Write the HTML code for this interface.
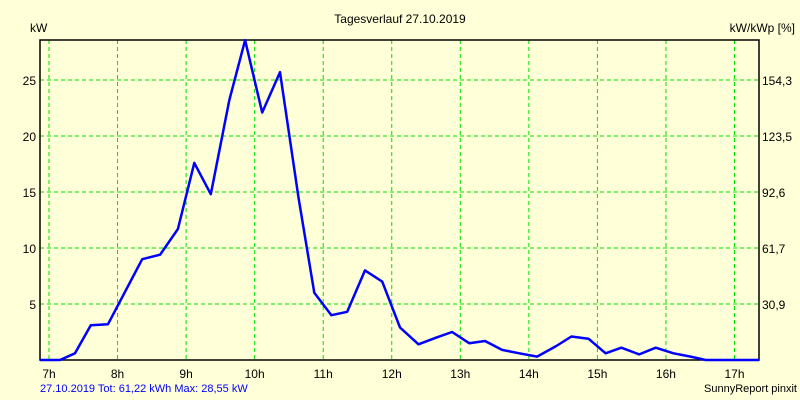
<!DOCTYPE html>
<html><head><meta charset="utf-8"><style>
body{margin:0;background:#ffffd8;}
svg{display:block;font-family:"Liberation Sans",sans-serif;font-size:12px;}
</style></head><body>
<svg id="c" width="800" height="400">
<rect width="800" height="400" fill="#ffffd8"/>
<text x="400" y="23" text-anchor="middle">Tagesverlauf 27.10.2019</text>
<text x="30" y="32">kW</text>
<text x="795" y="32" text-anchor="end">kW/kWp [%]</text>
<g id="grid"></g>
<rect x="40" y="40" width="719" height="320" fill="none" stroke="#000" stroke-width="1.5"/>
<g id="labels"></g>
<polyline id="line" fill="none" stroke="#0000ff" stroke-width="2.5" stroke-linejoin="round"/>
<text x="40" y="392" fill="#0000ff" font-size="11">27.10.2019 Tot: 61,22 kWh Max: 28,55 kW</text>
<text x="797" y="392" text-anchor="end" font-size="11">SunnyReport pinxit</text>
</svg>
<script>
const hours=[7,8,9,10,11,12,13,14,15,16,17];
const yTicks=[5,10,15,20,25];
const y2Labels=["30,9","61,7","92,6","123,5","154,3"];
const times=[6.87,7.16,7.38,7.61,7.86,8.36,8.62,8.88,9.12,9.36,9.63,9.86,10.11,10.37,10.64,10.87,11.12,11.35,11.61,11.86,12.12,12.39,12.65,12.88,13.13,13.36,13.61,13.86,14.12,14.40,14.62,14.87,15.12,15.35,15.61,15.85,16.11,16.36,16.58,17.36];
const power=[0,0,0.6,3.1,3.2,9.0,9.4,11.7,17.6,14.8,23.2,28.55,22.1,25.7,14.5,6.0,4.0,4.3,8.0,7.0,2.9,1.4,2.0,2.5,1.5,1.7,0.9,0.6,0.3,1.25,2.1,1.9,0.6,1.1,0.5,1.1,0.6,0.3,0,0];
const X=t=>49+(t-7)*68.55;
const Y=v=>360-v*11.2;
const NS="http://www.w3.org/2000/svg";
const grid=document.getElementById('grid'),labels=document.getElementById('labels');
function mk(tag,attrs,parent){const e=document.createElementNS(NS,tag);for(const k in attrs)e.setAttribute(k,attrs[k]);parent.appendChild(e);return e;}
hours.forEach(h=>{
 const l=mk('line',{x1:X(h),x2:X(h),y1:40,y2:360,stroke:'#00e000','stroke-dasharray':'4,3'},grid);
 
 
 const t=mk('text',{x:X(h),y:378,'text-anchor':'middle'},labels);
 t.textContent=h+'h';
 
 
});
yTicks.forEach((v,i)=>{
 const l=mk('line',{x1:40,x2:759,y1:Y(v),y2:Y(v),stroke:'#00e000','stroke-dasharray':'4,3'},grid);
 
 
 const t=mk('text',{x:36,y:Y(v)+5,'text-anchor':'end'},labels);
 t.textContent=v;
 
 
 const t2=mk('text',{x:762,y:Y(v)+5},labels);
 t2.textContent=y2Labels[i];
 
 
});
document.getElementById('line').setAttribute('points',times.map((t,i)=>X(t).toFixed(1)+','+Y(power[i]).toFixed(1)).join(' '));
</script>
</body></html>
